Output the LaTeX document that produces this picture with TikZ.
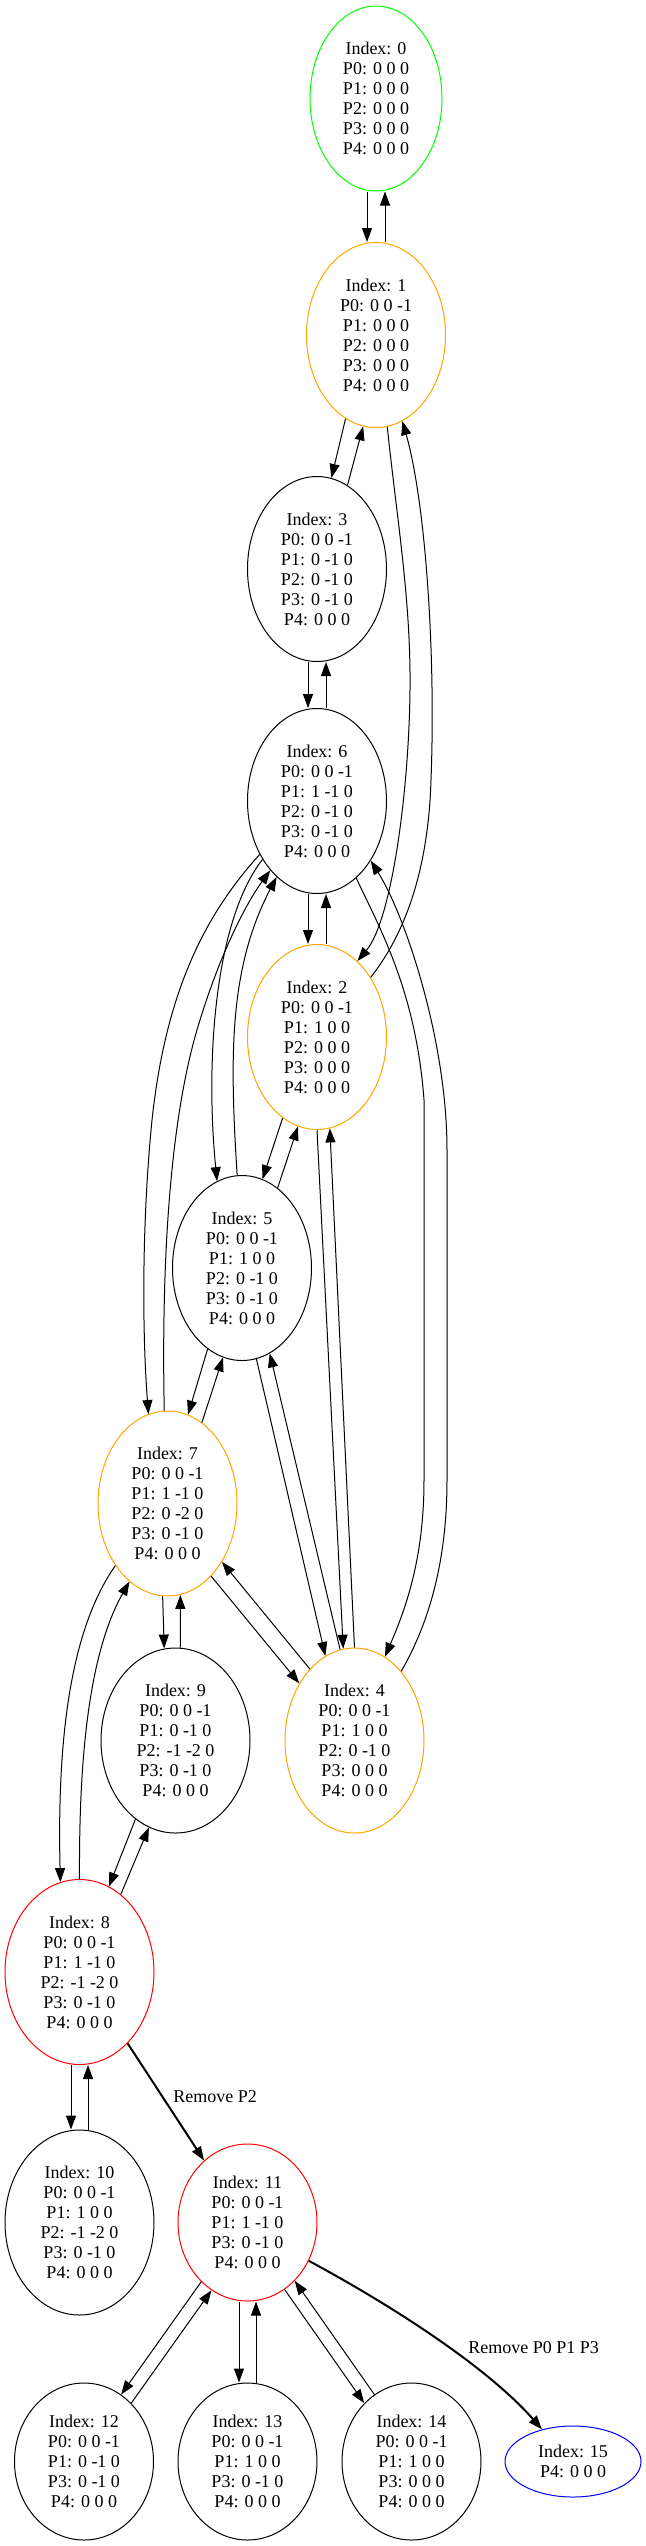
\documentclass[tikz,border=0pt]{standalone}
\usepackage{fontspec}
\setmainfont{Liberation Serif}
\usetikzlibrary{shapes.geometric,arrows.meta,calc}
\definecolor{gvgreen}{RGB}{0,255,0}
\definecolor{gvorange}{RGB}{255,165,0}
\definecolor{gvred}{RGB}{255,0,0}
\definecolor{gvblue}{RGB}{0,0,255}
\begin{document}
\begin{tikzpicture}[x=0.75pt,y=-0.75pt,
  st/.style={ellipse,draw,line width=0.75pt,inner sep=0pt,align=center,
    font=\fontsize{13.5}{15}\selectfont,minimum width=104.25pt,minimum height=138.75pt},
  five/.style={minimum height=117.75pt},
  wide/.style={minimum width=111.75pt},
  e/.style={-{Triangle[length=10.5pt,width=7.5pt]},line width=0.75pt},
  te/.style={-{Triangle[length=10.5pt,width=7.5pt]},line width=1.5pt},
  lab/.style={font=\fontsize{13.5}{15}\selectfont,anchor=west,inner sep=0pt}]
\useasboundingbox (0,0) rectangle (646,2546);

\node[st,draw=gvgreen,minimum width=99pt] (n0) at (376,98.5) {Index: 0\\P0: 0 0 0\\P1: 0 0 0\\P2: 0 0 0\\P3: 0 0 0\\P4: 0 0 0};
\node[st,draw=gvorange] (n1) at (376,335) {Index: 1\\P0: 0 0 -1\\P1: 0 0 0\\P2: 0 0 0\\P3: 0 0 0\\P4: 0 0 0};
\node[st] (n3) at (317,569) {Index: 3\\P0: 0 0 -1\\P1: 0 -1 0\\P2: 0 -1 0\\P3: 0 -1 0\\P4: 0 0 0};
\node[st] (n6) at (317,801) {Index: 6\\P0: 0 0 -1\\P1: 1 -1 0\\P2: 0 -1 0\\P3: 0 -1 0\\P4: 0 0 0};
\node[st,draw=gvorange] (n2) at (317,1037) {Index: 2\\P0: 0 0 -1\\P1: 1 0 0\\P2: 0 0 0\\P3: 0 0 0\\P4: 0 0 0};
\node[st] (n5) at (242,1268) {Index: 5\\P0: 0 0 -1\\P1: 1 0 0\\P2: 0 -1 0\\P3: 0 -1 0\\P4: 0 0 0};
\node[st,draw=gvorange] (n7) at (167.5,1503.5) {Index: 7\\P0: 0 0 -1\\P1: 1 -1 0\\P2: 0 -2 0\\P3: 0 -1 0\\P4: 0 0 0};
\node[st,wide] (n9) at (175.5,1740.5) {Index: 9\\P0: 0 0 -1\\P1: 0 -1 0\\P2: -1 -2 0\\P3: 0 -1 0\\P4: 0 0 0};
\node[st,draw=gvorange] (n4) at (354.5,1740.5) {Index: 4\\P0: 0 0 -1\\P1: 1 0 0\\P2: 0 -1 0\\P3: 0 0 0\\P4: 0 0 0};
\node[st,wide,draw=gvred] (n8) at (79.5,1972) {Index: 8\\P0: 0 0 -1\\P1: 1 -1 0\\P2: -1 -2 0\\P3: 0 -1 0\\P4: 0 0 0};
\node[st,wide] (n10) at (79.5,2222.5) {Index: 10\\P0: 0 0 -1\\P1: 1 0 0\\P2: -1 -2 0\\P3: 0 -1 0\\P4: 0 0 0};
\node[st,five,draw=gvred] (n11) at (247.5,2222.5) {Index: 11\\P0: 0 0 -1\\P1: 1 -1 0\\P3: 0 -1 0\\P4: 0 0 0};
\node[st,five] (n12) at (84,2461.5) {Index: 12\\P0: 0 0 -1\\P1: 0 -1 0\\P3: 0 -1 0\\P4: 0 0 0};
\node[st,five] (n13) at (247.5,2461.5) {Index: 13\\P0: 0 0 -1\\P1: 1 0 0\\P3: 0 -1 0\\P4: 0 0 0};
\node[st,five] (n14) at (411.5,2461.5) {Index: 14\\P0: 0 0 -1\\P1: 1 0 0\\P3: 0 0 0\\P4: 0 0 0};
\node[st,draw=gvblue,minimum width=102pt,minimum height=53.25pt] (n15) at (573,2461.5) {Index: 15\\P4: 0 0 0};

% 0 <-> 1
\draw[e] ($(n0.south)+(-9,0)$) -- ($(n1.north)+(-9,0)$);
\draw[e] ($(n1.north)+(9,0)$) -- ($(n0.south)+(9,0)$);
% 1 <-> 3
\draw[e] (n1.250) -- (n3.81);
\draw[e] (n3.70) -- (n1.262);
% 3 <-> 6
\draw[e] ($(n3.south)+(-9,0)$) -- ($(n6.north)+(-9,0)$);
\draw[e] ($(n6.north)+(9,0)$) -- ($(n3.south)+(9,0)$);
% 6 <-> 2
\draw[e] ($(n6.south)+(-9,0)$) -- ($(n2.north)+(-9,0)$);
\draw[e] ($(n2.north)+(9,0)$) -- ($(n6.south)+(9,0)$);
% 1 <-> 2
\draw[e] (n1.277) .. controls (397,520) and (411,600) .. (410,690) .. controls (409,790) and (392,920) .. (n2.62);
\draw[e] (n2.48) .. controls (400,940) and (428,880) .. (431,780) .. controls (436,650) and (425,500) .. (n1.287);
% 6 <-> 5
\draw[e] (n6.227) .. controls (215,920) and (205,1060) .. (n5.106);
\draw[e] (n5.93) .. controls (230,1060) and (228,970) .. (n6.242);
% 6 <-> 7
\draw[e] (n6.223) .. controls (200,920) and (165,1000) .. (152,1120) .. controls (142,1220) and (142,1330) .. (n7.102);
\draw[e] (n7.92) .. controls (162,1300) and (165,1130) .. (200,1020) .. controls (220,955) and (245,905) .. (n6.236);
% 2 <-> 5
\draw[e] (n2.247) -- (n5.77);
\draw[e] (n5.66) -- (n2.258);
% 5 <-> 4
\draw[e] (n5.279) -- (n4.109);
\draw[e] (n4.99) -- (n5.288);
% 2 <-> 4
\draw[e] (n2.south) -- (n4.97);
\draw[e] (n4.north) -- (n2.278);
% 6 <-> 4
\draw[e] (n6.297) .. controls (378,925) and (416,990) .. (424,1100) -- (424,1480) .. controls (424,1560) and (405,1610) .. (n4.70);
\draw[e] (n4.56) .. controls (425,1630) and (447,1570) .. (447,1480) -- (447,1150) .. controls (447,1040) and (405,915) .. (n6.312);
% 7 <-> 5
\draw[e] (n7.67) -- (n5.258);
\draw[e] (n5.247) -- (n7.77);
% 7 <-> 4
\draw[e] (n7.301) -- (n4.134);
\draw[e] (n4.122) -- (n7.313);
% 7 <-> 9
\draw[e] (n7.267) -- (n9.97);
\draw[e] (n9.87) -- (n7.278);
% 7 <-> 8
\draw[e] (n7.230) .. controls (70,1630) and (57,1740) .. (n8.102);
\draw[e] (n8.north) .. controls (79,1780) and (85,1660) .. (n7.244);
% 9 <-> 8
\draw[e] (n9.243) -- (n8.71);
\draw[e] (n8.62) -- (n9.253);
% 8 <-> 10
\draw[e] ($(n8.south)+(-8.5,0)$) -- ($(n10.north)+(-8.5,0)$);
\draw[e] ($(n10.north)+(8.5,0)$) -- ($(n8.south)+(8.5,0)$);
% 8 -> 11
\draw[te] (n8.304) -- (n11.125);
\node[lab] (l1) at (173,2097) {Remove P2};
% 11 <-> 12
\draw[e] (n11.232) -- (n12.61);
\draw[e] (n12.51) -- (n11.242);
% 11 <-> 13
\draw[e] ($(n11.south)+(-8.5,0)$) -- ($(n13.north)+(-8.5,0)$);
\draw[e] ($(n13.north)+(8.5,0)$) -- ($(n11.south)+(8.5,0)$);
% 11 <-> 14
\draw[e] (n11.299) -- (n14.129);
\draw[e] (n14.119) -- (n11.309);
% 11 -> 15
\draw[te] (n11.328) .. controls (400,2310) and (490,2370) .. (n15.134);
\node[lab] (l2) at (468,2348) {Remove P0 P1 P3};
\end{tikzpicture}
\end{document}
